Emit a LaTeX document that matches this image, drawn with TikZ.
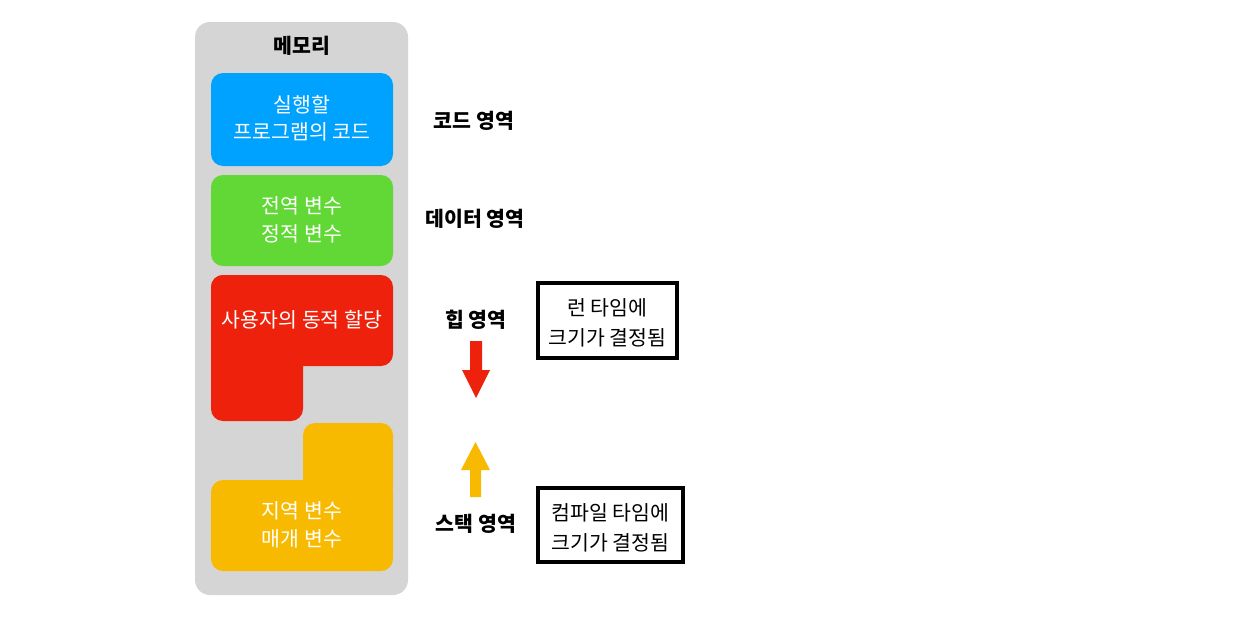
\documentclass[tikz,border=0pt]{standalone}
\usepackage{fontspec}
\setmainfont{Noto Sans CJK KR}
\newfontfamily\kr{Noto Sans CJK KR}
\definecolor{memgray}{HTML}{D5D5D5}
\definecolor{codeblue}{HTML}{00A2FF}
\definecolor{datagreen}{HTML}{61D836}
\definecolor{heapred}{HTML}{EE220C}
\definecolor{stackyellow}{HTML}{F8BA00}
\tikzset{
  blk/.style={rounded corners=12pt},
  intext/.style={text=white, font=\kr\fontsize{20.5}{27.5}\selectfont, align=center},
  lbl/.style={font=\kr\bfseries\fontsize{20.5}{27}\selectfont, text=black},
  notebox/.style={draw=black, line width=3.5pt, minimum width=#1, font=\kr\fontsize{20.5}{30}\selectfont, align=center, inner sep=0pt},
  notetext/.style={font=\kr\fontsize{20.5}{30}\selectfont, align=center, inner sep=0pt},
}
\begin{document}
\begin{tikzpicture}[x=1pt,y=-1pt]
\useasboundingbox[fill=white] (0,0) rectangle (1239,621);
% memory frame
\fill[memgray, rounded corners=15pt] (195,22) rectangle (408,595);
\node[lbl] (mem) at (302,46) {메모리};
% code
\fill[codeblue, blk] (211,73) rectangle (393,166);
\node[intext] (code) at (302,118) {실행할\\프로그램의 코드};
% data
\fill[datagreen, blk] (211,175) rectangle (393,266);
\node[intext] (data) at (302,220) {전역 변수\\정적 변수};
% heap
\fill[heapred, blk] (211,275) rectangle (393,366);
\fill[heapred, blk] (211,275) rectangle (303,421);
\node[intext] (heap) at (302,320) {사용자의 동적 할당};
% stack
\fill[stackyellow, blk] (303,423) rectangle (393,500);
\fill[stackyellow, blk] (211,480) rectangle (393,571);
\node[intext] (stack) at (302,525) {지역 변수\\매개 변수};
% labels
\node[lbl] (lcode) at (474,121) {코드 영역};
\node[lbl] (ldata) at (475,219) {데이터 영역};
\node[lbl] (lheap) at (476,320) {힙 영역};
\node[lbl] (lstack) at (476,524) {스택 영역};
% arrows
\fill[heapred] (470,341) -- (482,341) -- (482,370) -- (490,370) -- (476,398) -- (462,370) -- (470,370) -- cycle;
\fill[stackyellow] (470,497) -- (481,497) -- (481,470) -- (490,470) -- (475.5,442) -- (461,470) -- (470,470) -- cycle;
% note boxes
\draw[line width=3.5pt] (538,283) rectangle (677,358);
\node[notetext] (rt) at (607.5,322.5) {런 타임에\\크기가 결정됨};
\draw[line width=3.5pt] (538,488) rectangle (683,562);
\node[notetext] (ct) at (610.5,527.5) {컴파일 타임에\\크기가 결정됨};
\end{tikzpicture}
\end{document}
